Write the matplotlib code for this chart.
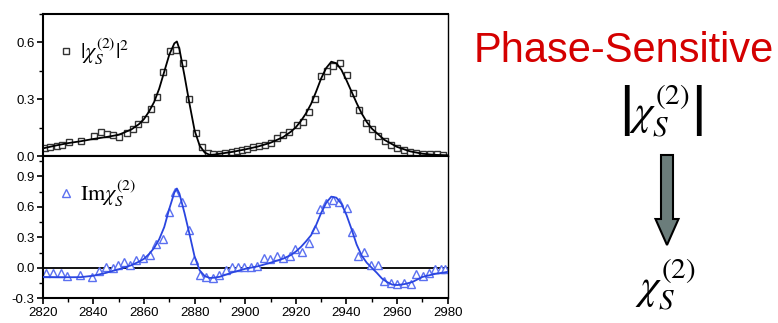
import matplotlib
matplotlib.use("Agg")
import matplotlib.pyplot as plt
from matplotlib.patches import FancyArrow
from matplotlib.ticker import MultipleLocator

plt.rcParams['font.family'] = ['Liberation Sans', 'DejaVu Sans']
plt.rcParams['mathtext.fontset'] = 'stix'

# |chi|^2 data (squares) and fit
sq_x = [2820.9, 2822.9, 2825.5, 2827.7, 2830.4, 2835.1, 2840.4, 2842.9, 2845.3, 2847.9,
        2850.3, 2853.2, 2855.6, 2857.8, 2860.4, 2862.8, 2865.0, 2867.7, 2870.2, 2872.7,
        2875.3, 2877.8, 2880.5, 2882.8, 2885.4, 2887.4, 2890.0, 2892.0, 2894.7, 2896.6,
        2898.6, 2900.8, 2903.2, 2905.6, 2907.8, 2910.1, 2912.5, 2915.1, 2917.3, 2920.4,
        2922.7, 2925.2, 2927.5, 2930.0, 2932.2, 2934.8, 2937.5, 2940.1, 2942.7, 2945.1,
        2947.6, 2950.0, 2952.6, 2955.2, 2957.6, 2960.1, 2962.8, 2965.1, 2967.5, 2970.4,
        2973.0, 2975.7, 2978.3]
sq_y = [0.044, 0.049, 0.053, 0.057, 0.074, 0.081, 0.107, 0.127, 0.116, 0.109,
        0.100, 0.120, 0.145, 0.171, 0.197, 0.247, 0.314, 0.446, 0.557, 0.561,
        0.492, 0.300, 0.123, 0.045, 0.014, 0.011, 0.011, 0.018, 0.023, 0.026,
        0.032, 0.039, 0.046, 0.053, 0.060, 0.067, 0.094, 0.110, 0.127, 0.162,
        0.180, 0.232, 0.303, 0.420, 0.450, 0.476, 0.490, 0.430, 0.335, 0.243,
        0.173, 0.141, 0.106, 0.081, 0.058, 0.044, 0.032, 0.023, 0.014, 0.011,
        0.009, 0.009, 0.007]

top_fit_x = [2820, 2825, 2830, 2835, 2840, 2845, 2850, 2855, 2858, 2860, 2862, 2864, 2866, 2868,
             2870, 2872, 2873, 2874, 2876, 2878, 2880, 2882, 2884, 2886, 2888, 2890, 2895, 2900,
             2905, 2910, 2915, 2918, 2920, 2922, 2924, 2926, 2928, 2930, 2932, 2934, 2936, 2938,
             2940, 2942, 2944, 2946, 2948, 2950, 2955, 2960, 2965, 2970, 2975, 2980]
top_fit_y = [0.040, 0.055, 0.068, 0.078, 0.090, 0.100, 0.112, 0.140, 0.168, 0.195, 0.235, 0.285,
             0.355, 0.445, 0.535, 0.595, 0.605, 0.565, 0.425, 0.275, 0.135, 0.055, 0.018, 0.006,
             0.008, 0.012, 0.022, 0.035, 0.050, 0.070, 0.100, 0.128, 0.152, 0.185, 0.225, 0.275,
             0.340, 0.410, 0.465, 0.498, 0.490, 0.455, 0.400, 0.340, 0.280, 0.225, 0.180, 0.145,
             0.085, 0.048, 0.025, 0.012, 0.006, 0.004]

# Im chi data (triangles) and fit
tri_x = [2821.3, 2823.9, 2827.1, 2829.7, 2834.7, 2839.4, 2842.4, 2845.0, 2847.7, 2849.9,
         2852.3, 2854.5, 2856.9, 2859.7, 2862.4, 2864.8, 2867.7, 2870.0, 2872.3, 2874.9,
         2877.6, 2879.9, 2882.1, 2884.6, 2887.3, 2889.8, 2892.4, 2894.7, 2897.3, 2899.5,
         2902.2, 2904.6, 2907.4, 2909.8, 2912.5, 2915.1, 2917.7, 2919.7, 2922.3, 2925.2,
         2927.5, 2929.6, 2932.0, 2934.6, 2937.2, 2940.1, 2942.1, 2944.5, 2946.9, 2949.7,
         2952.4, 2954.8, 2957.6, 2960.1, 2962.9, 2965.4, 2967.5, 2970.1, 2972.4, 2975.0,
         2977.3, 2979.0]
tri_y = [-0.049, -0.049, -0.049, -0.081, -0.072, -0.094, -0.029, 0.010, -0.006, 0.026,
         0.059, 0.026, 0.075, 0.100, 0.125, 0.233, 0.288, 0.550, 0.746, 0.648,
         0.375, 0.075, -0.067, -0.090, -0.104, -0.072, -0.023, 0.004, 0.004, 0.004,
         0.010, 0.017, 0.092, 0.085, 0.115, 0.098, 0.115, 0.180, 0.157, 0.246,
         0.380, 0.583, 0.638, 0.671, 0.648, 0.593, 0.353, 0.115, 0.157, 0.026,
         0.026, -0.131, -0.153, -0.160, -0.147, -0.160, -0.065, -0.081, -0.055, -0.016,
         -0.016, -0.016]

bot_fit_x = [2820, 2825, 2830, 2835, 2840, 2845, 2848, 2850, 2855, 2858, 2860, 2862, 2864, 2866,
             2868, 2870, 2872, 2873, 2874, 2876, 2878, 2880, 2882, 2884, 2886, 2888, 2890, 2895,
             2900, 2905, 2910, 2915, 2918, 2920, 2922, 2924, 2926, 2928, 2930, 2932, 2934, 2936,
             2938, 2940, 2942, 2944, 2946, 2948, 2950, 2952, 2954, 2956, 2958, 2960, 2963, 2966,
             2970, 2975, 2980]
bot_fit_y = [-0.090, -0.092, -0.093, -0.092, -0.078, -0.050, -0.028, -0.015, 0.025, 0.060, 0.088,
             0.135, 0.195, 0.280, 0.400, 0.580, 0.740, 0.780, 0.730, 0.540, 0.330, 0.110, -0.025,
             -0.082, -0.100, -0.097, -0.088, -0.045, -0.010, 0.015, 0.050, 0.090, 0.125, 0.160,
             0.205, 0.260, 0.320, 0.420, 0.540, 0.640, 0.700, 0.690, 0.630, 0.520, 0.380, 0.230,
             0.120, 0.050, 0.000, -0.050, -0.105, -0.140, -0.165, -0.170, -0.160, -0.140, -0.090,
             -0.060, -0.040]

fig = plt.figure(figsize=(7.78, 3.23), dpi=100)
ax1 = fig.add_axes([0.0549, 0.517, 0.5206, 0.4396])
ax2 = fig.add_axes([0.0549, 0.0765, 0.5206, 0.4406])

blue = '#2a45e0'
tri_blue = '#5b70f0'

ax1.plot(top_fit_x, top_fit_y, color='black', lw=1.3, zorder=3)
ax1.plot(sq_x, sq_y, 's', ms=5, mfc='white', mec='#333333', mew=1.0, zorder=2,
         label=r'$|\chi_S^{(2)}|^2$')
ax1.set_ylim(0, 0.75)
ax1.yaxis.set_major_locator(MultipleLocator(0.3))
ax1.yaxis.set_minor_locator(MultipleLocator(0.15))

ax2.axhline(0, color='black', lw=1.3, zorder=1)
ax2.plot(bot_fit_x, bot_fit_y, color=blue, lw=1.3, zorder=3)
ax2.plot(tri_x, tri_y, '^', ms=6, mfc='white', mec=tri_blue, mew=1.0, zorder=2,
         label=r'$\mathrm{Im}\chi_S^{(2)}$')
ax2.set_ylim(-0.3, 1.1)
ax2.yaxis.set_major_locator(MultipleLocator(0.3))
ax2.yaxis.set_minor_locator(MultipleLocator(0.15))

for ax in (ax1, ax2):
    ax.set_xlim(2820, 2980)
    ax.xaxis.set_major_locator(MultipleLocator(20))
    ax.xaxis.set_minor_locator(MultipleLocator(10))
    ax.tick_params(which='major', direction='out', length=4, width=1.2, labelsize=9.5, pad=2)
    ax.tick_params(which='minor', direction='out', length=3, width=1.0)
    for side in ('left', 'top', 'bottom'):
        ax.spines[side].set_linewidth(1.5)
    ax.spines['right'].set_linewidth(1.0)
    ax.yaxis.set_major_formatter(plt.FormatStrFormatter('%.1f'))
    ax.legend(loc='upper left', bbox_to_anchor=(0.0, 0.95), frameon=False, fontsize=16,
              handlelength=0.7, handletextpad=0.3, borderaxespad=0.3)
ax1.tick_params(axis='x', labelbottom=False)

# right-hand annotation
fig.text(0.802, 1 - 62 / 323, 'Phase-Sensitive', color='#d40000', fontsize=30,
         ha='center', va='baseline')
fig.text(0.850, 1 - 111 / 323, r'$\left|\chi_S^{(2)}\right|$', fontsize=30,
         ha='center', va='center')
fig.text(0.855, 1 - 285 / 323, r'$\chi_S^{(2)}$', fontsize=30, ha='center', va='center')
fig.add_artist(FancyArrow(667 / 778, 1 - 155 / 323, 0, -90 / 323, width=12 / 778,
                          head_width=23 / 778, head_length=26 / 323,
                          length_includes_head=True, transform=fig.transFigure,
                          facecolor='#6b7d7b', edgecolor='black', lw=1.5))

fig.savefig('out.png', dpi=100)
